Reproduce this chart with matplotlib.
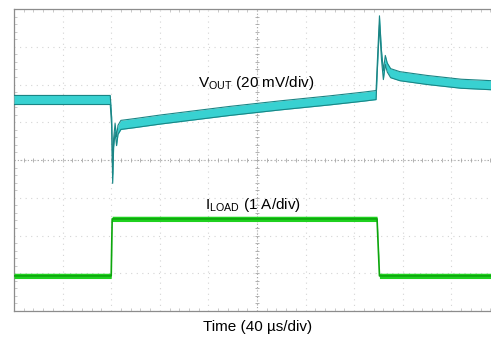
#oscilloscope capture: load transient
import matplotlib
matplotlib.use("Agg")
import matplotlib.pyplot as plt
import numpy as np

plt.rcParams["font.family"] = ["Liberation Sans", "DejaVu Sans"]
plt.rcParams["mathtext.fontset"] = "custom"
plt.rcParams["mathtext.rm"] = "Liberation Sans"

#trace colours
CYAN = (0.22, 0.82, 0.82)
CYAN_EDGE = (0.10, 0.52, 0.52)
GREEN = (0.12, 0.82, 0.12)
GREEN_EDGE = (0.05, 0.65, 0.05)
GRID = (0.83, 0.83, 0.83)

#time in divisions (40 us/div), levels in divisions from screen centre
vout_t = [0.0, 1.98, 2.01, 2.03, 2.05, 2.08, 2.11, 2.14, 2.2, 2.5, 3.0, 3.5, 4.44, 5.5, 6.5, 7.2, 7.45,
          7.48, 7.52, 7.56, 7.6, 7.64, 7.68, 7.75, 7.94, 8.5, 9.2, 10.0]
vout_v = [1.59, 1.59, 1.0, -0.5, 0.45, 0.85, 0.5, 0.8, 0.93, 0.98, 1.07, 1.15, 1.30, 1.45, 1.58, 1.68, 1.72,
          2.6, 3.7, 2.8, 2.25, 2.65, 2.45, 2.3, 2.22, 2.12, 2.02, 1.97]
vout_w = 0.12

iload_t = [0.0, 2.0, 2.02, 7.47, 7.52, 10.0]
iload_v = [-3.07, -3.07, -1.56, -1.56, -3.07, -3.07]
iload_w = 0.07

fig = plt.figure(figsize=(4.91, 3.42), dpi=100)
ax = fig.add_axes([14 / 491, 31 / 342, 486 / 491, 302 / 342])
ax.set_xlim(0, 10)
ax.set_ylim(-4, 4)

#graticule
ax.set_xticks(np.arange(0, 11, 1))
ax.set_yticks(np.arange(-4, 5, 1))
ax.set_xticks(np.arange(0, 10.01, 0.2), minor=True)
ax.set_yticks(np.arange(-4, 4.01, 0.2), minor=True)
ax.set_xticklabels([])
ax.set_yticklabels([])
ax.tick_params(which="both", direction="in", length=0, top=True, right=True)
ax.tick_params(which="minor", length=2, width=0.5, color=(0.7, 0.7, 0.7))
ax.grid(True, which="major", color=GRID, linestyle=(0, (1, 4)), linewidth=0.8)
for side in ["left", "top", "bottom", "right"]:
    ax.spines[side].set_color((0.55, 0.55, 0.55))
    ax.spines[side].set_linewidth(0.9)

#centre lines with small ticks
ax.axhline(0, color=(0.65, 0.65, 0.65), linestyle=(0, (1, 2)), linewidth=0.8)
ax.axvline(5, color=(0.65, 0.65, 0.65), linestyle=(0, (1, 2)), linewidth=0.8)
ticks = np.arange(0.2, 10, 0.2)
ax.scatter(ticks, np.zeros_like(ticks), marker="|", s=12, color=(0.65, 0.65, 0.65), linewidths=0.6)
ticks = np.arange(-3.8, 4, 0.2)
ax.scatter(np.full_like(ticks, 5), ticks, marker="_", s=12, color=(0.65, 0.65, 0.65), linewidths=0.6)

#traces
vt = np.array(vout_t)
vv = np.array(vout_v)
ax.fill_between(vt, vv - vout_w, vv + vout_w, color=CYAN, linewidth=0, zorder=3)
ax.plot(vt, vv + vout_w, color=CYAN_EDGE, linewidth=0.8, zorder=4)
ax.plot(vt, vv - vout_w, color=CYAN_EDGE, linewidth=0.8, zorder=4)

it = np.array(iload_t)
iv = np.array(iload_v)
ax.fill_between(it, iv - iload_w, iv + iload_w, color=GREEN, linewidth=0, zorder=3)
ax.plot(it, iv, color=GREEN_EDGE, linewidth=1.2, zorder=4)

#labels
ax.text(4.98, 2.03, r"V$_{\mathrm{OUT}}$ (20 mV/div)", ha="center", va="center", fontsize=11, zorder=5)
ax.text(4.92, -1.20, r"I$_{\mathrm{LOAD}}$ (1 A/div)", ha="center", va="center", fontsize=11, zorder=5)
fig.text(258 / 491, 1 - 327 / 342, "Time (40 µs/div)", ha="center", va="center", fontsize=11)

fig.savefig("out.png", dpi=100)
